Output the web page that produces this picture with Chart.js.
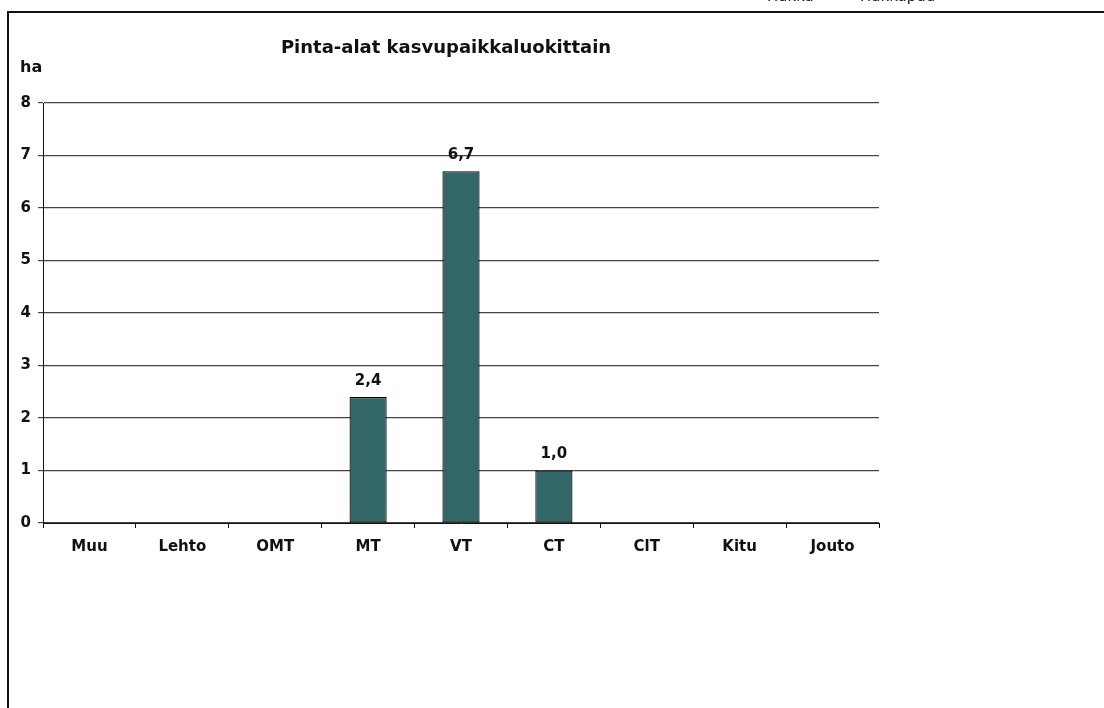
<!DOCTYPE html>
<html>
<head>
<meta charset="utf-8">
<script src="https://cdn.jsdelivr.net/npm/chart.js@4/dist/chart.umd.min.js"></script>
<style>
html,body{margin:0;padding:0;background:#fff;}
#wrap{position:relative;width:1104px;height:708px;}
</style>
</head>
<body>
<div id="wrap"><canvas id="c" width="1104" height="708"></canvas></div>
<script>
const categories = ['Muu','Lehto','OMT','MT','VT','CT','ClT','Kitu','Jouto'];
const areas = [0,0,0,2.4,6.7,1.0,0,0,0];
const yTicks = [0,1,2,3,4,5,6,7,8];
const chartTitle = 'Pinta-alat kasvupaikkaluokittain';
const unitLabel = 'ha';
const headerTexts = ['Hakka','Hakkapuu'];

const FONT = '"DejaVu Sans", Verdana, sans-serif';

const decor = {
  id: 'decor',
  beforeDraw(chart) {
    const c = chart.ctx;
    c.save();
    c.fillStyle = '#fff';
    c.fillRect(0,0,chart.width,chart.height);
    c.strokeStyle = '#111';
    c.lineWidth = 2;
    c.beginPath();
    c.moveTo(8, 709); c.lineTo(8, 12); c.lineTo(1104, 12);
    c.stroke();
    c.fillStyle = '#222';
    c.font = '15px ' + FONT;
    c.textAlign = 'left';
    c.textBaseline = 'alphabetic';
    c.fillText(headerTexts[0], 767, 1);
    c.fillText(headerTexts[1], 860, 1);
    c.restore();
  },
  afterDatasetsDraw(chart) {
    const c = chart.ctx;
    c.save();
    c.fillStyle = '#111';
    c.font = 'bold 18px ' + FONT;
    c.textAlign = 'center';
    c.textBaseline = 'middle';
    c.fillText(chartTitle, 446, 48);
    c.font = 'bold 16px ' + FONT;
    c.textAlign = 'left';
    c.fillText(unitLabel, 20, 68);
    c.font = 'bold 15px ' + FONT;
    c.textAlign = 'center';
    const meta = chart.getDatasetMeta(0);
    meta.data.forEach((bar, i) => {
      const v = areas[i];
      if (!v) return;
      c.fillText(v.toFixed(1).replace('.', ','), bar.x, bar.y - 16);
    });
    c.restore();
  }
};

new Chart(document.getElementById('c'), {
  type: 'bar',
  data: {
    labels: categories,
    datasets: [{
      data: areas,
      backgroundColor: '#336666',
      borderColor: '#000',
      borderWidth: ctx => (ctx.raw ? 1.2 : 0),
      borderSkipped: false,
      categoryPercentage: 1,
      barPercentage: 0.4
    }]
  },
  options: {
    responsive: false,
    animation: false,
    devicePixelRatio: 1,
    layout: { padding: { left: 0, top: 103, right: 225, bottom: 0 } },
    plugins: { legend: { display: false }, title: { display: false }, tooltip: { enabled: false } },
    scales: {
      x: {
        offset: true,
        grid: { offset: true, drawOnChartArea: false, drawTicks: true, tickLength: 5, color: '#111' },
        border: { display: true, color: '#111', width: 1 },
        ticks: { color: '#111', font: { family: FONT, size: 15, weight: 'bold' }, padding: 10, maxRotation: 0 },
        afterFit: s => { s.height = 185; }
      },
      y: {
        min: 0, max: 8,
        afterBuildTicks: s => { s.ticks = yTicks.map(v => ({ value: v })); },
        grid: { color: '#444', lineWidth: 1.2, drawTicks: true, tickLength: 5 },
        border: { display: true, color: '#111', width: 1 },
        ticks: { color: '#111', font: { family: FONT, size: 15, weight: 'bold' }, padding: 7 },
        afterFit: s => { s.width = 43; }
      }
    }
  },
  plugins: [decor]
});
</script>
</body>
</html>
